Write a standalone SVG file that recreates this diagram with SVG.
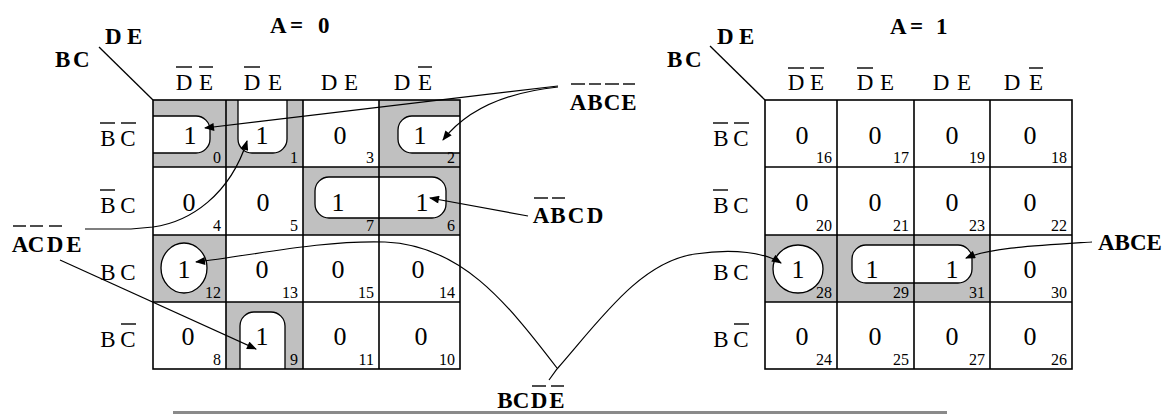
<svg xmlns="http://www.w3.org/2000/svg" width="1173" height="414" viewBox="0 0 1173 414">
<style>
.grid{stroke:#000;stroke-width:1.6;fill:none}
.shade{fill:#c0c0c0}
.loop{fill:#fff;stroke:#000;stroke-width:1.3}
.val{font-family:"Liberation Serif",serif;font-size:26px;text-anchor:middle;fill:#000}
.num{font-family:"Liberation Serif",serif;font-size:16px;text-anchor:end;fill:#000}
.hdr{font-family:"Liberation Serif",serif;font-size:23px;text-anchor:middle;fill:#000}
.bl{font-family:"Liberation Serif",serif;font-weight:bold;font-size:23px;fill:#000}
.blm{font-family:"Liberation Serif",serif;font-weight:bold;font-size:23px;text-anchor:middle;fill:#000}
.bar{stroke:#000;stroke-width:1.4}
.ln{stroke:#000;stroke-width:1.3;fill:none}
.conn{fill:none;stroke:#000;stroke-width:1.2}
.arr{marker-end:url(#ah)}
</style>
<defs>
<marker id="ah" viewBox="0 0 10 8" refX="9" refY="4" markerWidth="11" markerHeight="8" markerUnits="userSpaceOnUse" orient="auto"><path d="M0,0 L10,4 L0,8 z" fill="#000"/></marker>
</defs>
<rect width="1173" height="414" fill="#fff"/>

<!-- Left map A=0 -->
<g id="map-a0">
<g id="map-a0-shading">
<rect class="shade" x="153" y="100" width="73" height="67"/>
<rect class="shade" x="226" y="100" width="77" height="67"/>
<rect class="shade" x="379" y="100" width="81" height="67"/>
<rect class="shade" x="303" y="167" width="157" height="68"/>
<rect class="shade" x="153" y="235" width="73" height="67"/>
<rect class="shade" x="226" y="302" width="77" height="67"/>
</g>
<g id="map-a0-loops">
<path class="loop" d="M153,116 H196 A14,14 0 0 1 210,130 V139 A14,14 0 0 1 196,153 H153"/>
<path class="loop" d="M238,100 V139 A14,14 0 0 0 252,153 H273 A14,14 0 0 0 287,139 V100"/>
<path class="loop" d="M460,116 H412 A14,14 0 0 0 398,130 V139 A14,14 0 0 0 412,153 H460"/>
<rect class="loop" x="315" y="177" width="131" height="41" rx="14"/>
<ellipse class="loop" cx="184" cy="268" rx="23" ry="25"/>
<path class="loop" d="M240,369 V326 A14,14 0 0 1 254,312 H271 A14,14 0 0 1 285,326 V369"/>
</g>
<g id="map-a0-grid">
<rect class="grid" x="153" y="100" width="307" height="269" stroke-width="2"/>
<path class="grid" d="M226,100V369 M303,100V369 M379,100V369 M153,167H460 M153,235H460 M153,302H460"/>
</g>
</g>

<!-- Right map A=1 -->
<g id="map-a1">
<g id="map-a1-shading">
<rect class="shade" x="765" y="235" width="225" height="67"/>
</g>
<g id="map-a1-loops">
<ellipse class="loop" cx="798" cy="269" rx="25" ry="24"/>
<rect class="loop" x="852" y="245" width="120" height="38" rx="14"/>
</g>
<g id="map-a1-grid">
<rect class="grid" x="765" y="100" width="307" height="269" stroke-width="2"/>
<path class="grid" d="M837,100V369 M914,100V369 M990,100V369 M765,167H1072 M765,235H1072 M765,302H1072"/>
</g>
</g>

<!-- Left cells -->
<g id="cell-0"><text class="val" x="190" y="144">1</text><text class="num" x="221" y="163">0</text></g>
<g id="cell-1"><text class="val" x="262" y="144">1</text><text class="num" x="298" y="163">1</text></g>
<g id="cell-3"><text class="val" x="340" y="144">0</text><text class="num" x="374" y="163">3</text></g>
<g id="cell-2"><text class="val" x="420" y="144">1</text><text class="num" x="455" y="163">2</text></g>
<g id="cell-4"><text class="val" x="189" y="211">0</text><text class="num" x="221" y="231">4</text></g>
<g id="cell-5"><text class="val" x="263" y="211">0</text><text class="num" x="298" y="231">5</text></g>
<g id="cell-7"><text class="val" x="338" y="211">1</text><text class="num" x="374" y="231">7</text></g>
<g id="cell-6"><text class="val" x="422" y="211">1</text><text class="num" x="455" y="231">6</text></g>
<g id="cell-12"><text class="val" x="184" y="278">1</text><text class="num" x="221" y="298">12</text></g>
<g id="cell-13"><text class="val" x="262" y="278">0</text><text class="num" x="298" y="298">13</text></g>
<g id="cell-15"><text class="val" x="338" y="278">0</text><text class="num" x="374" y="298">15</text></g>
<g id="cell-14"><text class="val" x="418" y="278">0</text><text class="num" x="455" y="298">14</text></g>
<g id="cell-8"><text class="val" x="188" y="345">0</text><text class="num" x="221" y="365">8</text></g>
<g id="cell-9"><text class="val" x="262" y="345">1</text><text class="num" x="298" y="365">9</text></g>
<g id="cell-11"><text class="val" x="340" y="345">0</text><text class="num" x="374" y="365">11</text></g>
<g id="cell-10"><text class="val" x="421" y="345">0</text><text class="num" x="455" y="365">10</text></g>

<!-- Right cells -->
<g id="cell-16"><text class="val" x="802" y="144">0</text><text class="num" x="832" y="163">16</text></g>
<g id="cell-17"><text class="val" x="875" y="144">0</text><text class="num" x="909" y="163">17</text></g>
<g id="cell-19"><text class="val" x="952" y="144">0</text><text class="num" x="985" y="163">19</text></g>
<g id="cell-18"><text class="val" x="1030" y="144">0</text><text class="num" x="1067" y="163">18</text></g>
<g id="cell-20"><text class="val" x="802" y="211">0</text><text class="num" x="832" y="231">20</text></g>
<g id="cell-21"><text class="val" x="875" y="211">0</text><text class="num" x="909" y="231">21</text></g>
<g id="cell-23"><text class="val" x="952" y="211">0</text><text class="num" x="985" y="231">23</text></g>
<g id="cell-22"><text class="val" x="1030" y="211">0</text><text class="num" x="1067" y="231">22</text></g>
<g id="cell-28"><text class="val" x="798" y="278">1</text><text class="num" x="832" y="298">28</text></g>
<g id="cell-29"><text class="val" x="872" y="278">1</text><text class="num" x="909" y="298">29</text></g>
<g id="cell-31"><text class="val" x="952" y="278">1</text><text class="num" x="985" y="298">31</text></g>
<g id="cell-30"><text class="val" x="1030" y="278">0</text><text class="num" x="1067" y="298">30</text></g>
<g id="cell-24"><text class="val" x="802" y="345">0</text><text class="num" x="832" y="365">24</text></g>
<g id="cell-25"><text class="val" x="875" y="345">0</text><text class="num" x="909" y="365">25</text></g>
<g id="cell-27"><text class="val" x="952" y="345">0</text><text class="num" x="985" y="365">27</text></g>
<g id="cell-26"><text class="val" x="1030" y="345">0</text><text class="num" x="1067" y="365">26</text></g>

<!-- Headers left -->
<g id="hdr-a0">
<text class="bl" x="270 290 318" y="33" font-size="24">A=0</text>
<text class="bl" x="105 127" y="44" font-size="26">DE</text>
<text class="bl" x="55 73" y="67" font-size="24">BC</text>
<line class="ln" x1="99" y1="47" x2="153" y2="100"/>
</g>
<g id="cols-a0">
<text class="hdr" x="184 206" y="90">DE</text>
<line class="bar" x1="176" y1="67" x2="192" y2="67"/><line class="bar" x1="199" y1="67" x2="213" y2="67"/>
<text class="hdr" x="252 275" y="90">DE</text>
<line class="bar" x1="244" y1="67" x2="260" y2="67"/>
<text class="hdr" x="329 351" y="90">DE</text>
<text class="hdr" x="402 425" y="90">DE</text>
<line class="bar" x1="418" y1="67" x2="432" y2="67"/>
</g>
<g id="rows-a0">
<text class="hdr" x="108 128" y="146">BC</text>
<line class="bar" x1="100" y1="123" x2="115" y2="123"/><line class="bar" x1="121" y1="123" x2="136" y2="123"/>
<text class="hdr" x="108 128" y="213">BC</text>
<line class="bar" x1="100" y1="190" x2="115" y2="190"/>
<text class="hdr" x="108 128" y="280">BC</text>
<text class="hdr" x="108 128" y="347">BC</text>
<line class="bar" x1="121" y1="324" x2="136" y2="324"/>
</g>

<!-- Headers right -->
<g id="hdr-a1">
<text class="bl" x="890 910 936" y="34" font-size="24">A=1</text>
<text class="bl" x="717 739" y="44" font-size="26">DE</text>
<text class="bl" x="667 685" y="67" font-size="24">BC</text>
<line class="ln" x1="710" y1="46" x2="765" y2="100"/>
</g>
<g id="cols-a1">
<text class="hdr" x="796 817" y="90">DE</text>
<line class="bar" x1="788" y1="68" x2="804" y2="68"/><line class="bar" x1="810" y1="68" x2="824" y2="68"/>
<text class="hdr" x="865 887" y="90">DE</text>
<line class="bar" x1="857" y1="68" x2="873" y2="68"/>
<text class="hdr" x="941 964" y="90">DE</text>
<text class="hdr" x="1012 1036" y="90">DE</text>
<line class="bar" x1="1029" y1="68" x2="1043" y2="68"/>
</g>
<g id="rows-a1">
<text class="hdr" x="721 741" y="146">BC</text>
<line class="bar" x1="713" y1="123" x2="728" y2="123"/><line class="bar" x1="734" y1="123" x2="749" y2="123"/>
<text class="hdr" x="721 741" y="213">BC</text>
<line class="bar" x1="713" y1="190" x2="728" y2="190"/>
<text class="hdr" x="721 741" y="280">BC</text>
<text class="hdr" x="721 741" y="347">BC</text>
<line class="bar" x1="734" y1="324" x2="749" y2="324"/>
</g>

<!-- Term labels -->
<g id="label-abce-bar">
<text class="blm" x="578 595 612 629" y="110">ABCE</text>
<line class="bar" x1="571" y1="84" x2="585" y2="84"/><line class="bar" x1="589" y1="84" x2="601" y2="84"/><line class="bar" x1="605" y1="84" x2="619" y2="84"/><line class="bar" x1="623" y1="84" x2="635" y2="84"/>
</g>
<g id="label-abcd">
<text class="blm" x="541 558 576 595" y="223">ABCD</text>
<line class="bar" x1="534" y1="198" x2="548" y2="198"/><line class="bar" x1="552" y1="198" x2="565" y2="198"/>
</g>
<g id="label-acde">
<text class="blm" x="20 36 55 74" y="252">ACDE</text>
<line class="bar" x1="13" y1="226" x2="26" y2="226"/><line class="bar" x1="30" y1="226" x2="43" y2="226"/><line class="bar" x1="49" y1="226" x2="62" y2="226"/>
</g>
<g id="label-bcde">
<text class="blm" x="505 521 539 557" y="408" font-size="22">BCDE</text>
<line class="bar" x1="532" y1="386" x2="546" y2="386"/><line class="bar" x1="551" y1="386" x2="564" y2="386"/>
</g>
<g id="label-abce">
<text class="bl" x="1098" y="250">ABCE</text>
</g>

<rect x="173" y="411" width="774" height="3" fill="#8a8a8a"/>

<!-- Connectors -->
<g id="connectors">
<path class="conn arr" d="M558,86 L205,128"/>
<path class="conn arr" d="M558,87 C510,92 468,108 443,140"/>
<path class="conn arr" d="M528,216 L430,198"/>
<path class="conn arr" d="M85,229 H131 L153,227 C190,222 230,195 247,141"/>
<path class="conn arr" d="M60,260 L256,349"/>
<path class="conn arr" d="M557,368 C505,300 460,245 385,242 C320,240 250,256 196,262"/>
<path class="conn arr" d="M549,380 L557,369 C600,320 640,262 695,254 C735,248 765,253 781,263"/>
<path class="conn arr" d="M1092,242 C1030,246 990,248 966,258"/>
</g>
</svg>
